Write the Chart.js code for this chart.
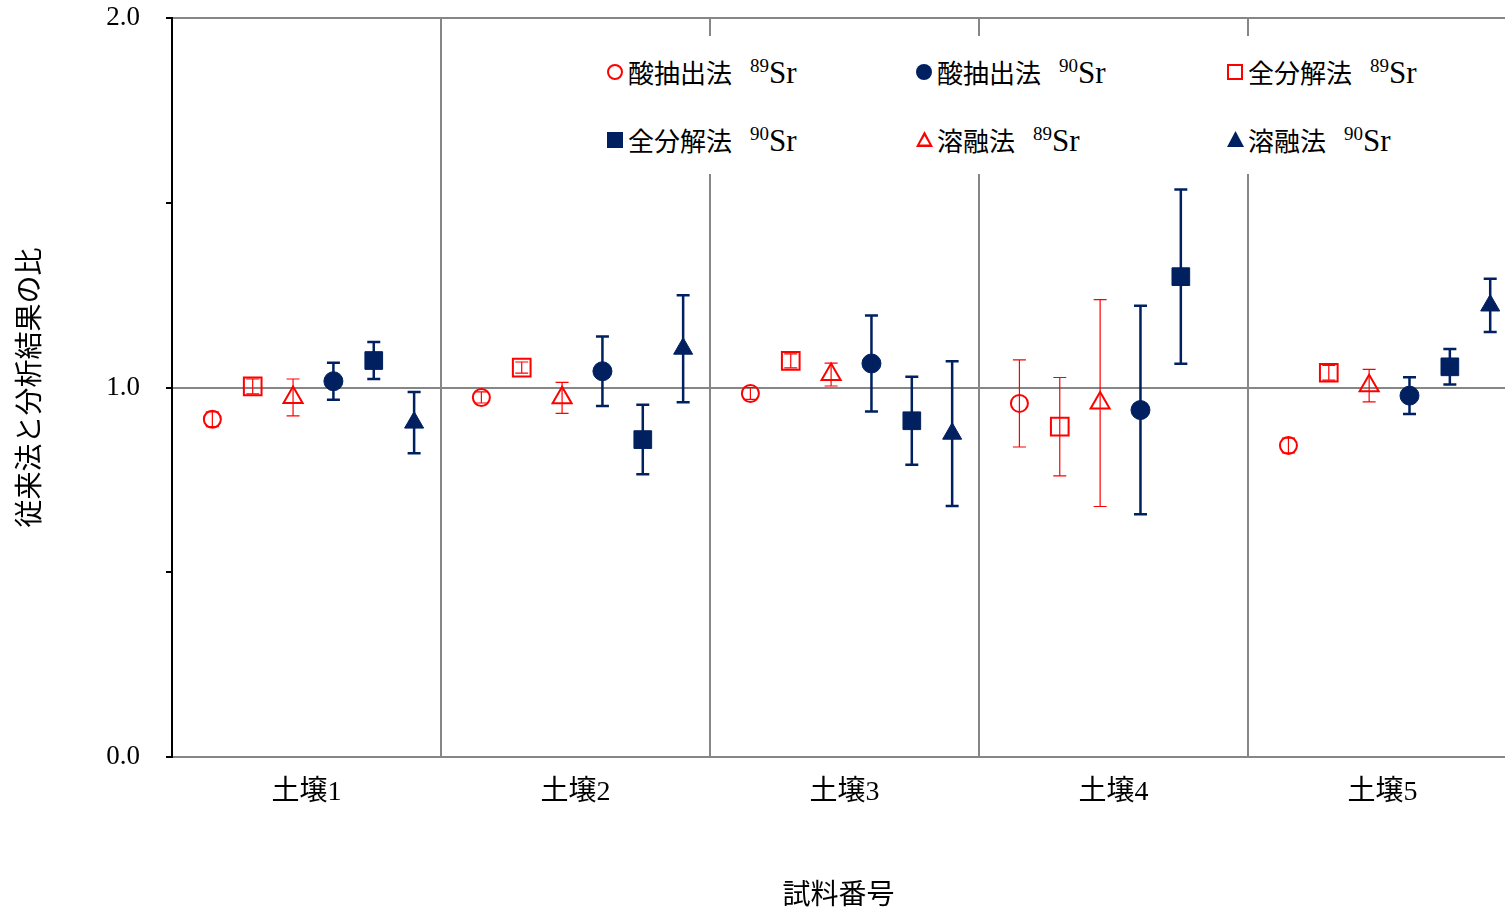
<!DOCTYPE html>
<html lang="ja">
<head>
<meta charset="utf-8">
<title>従来法と分析結果の比</title>
<script src="https://cdn.jsdelivr.net/npm/chart.js@4.4.1/dist/chart.umd.min.js"></script>
<style>
  body { margin: 0; background: #fff; }
  #wrap { position: relative; width: 1505px; height: 913px; }
  #legendBg { position: absolute; left: 592px; top: 36px; width: 880px; height: 138px; background: #fff; }
  .item { position: absolute; height: 40px; width: 300px; white-space: nowrap; }
  .mk { position: absolute; left: 0; box-sizing: border-box; }
  .txt { position: absolute; left: 21px; top: 0; line-height: 40px; font-family: "Noto Sans CJK JP"; font-size: 26px; color: #000; }
  .iso { font-family: "Liberation Serif"; font-size: 31px; margin-left: 18px; }
  .iso sup { font-size: 19px; line-height: 0; vertical-align: 11px; }
</style>
</head>
<body>
<div id="wrap">
  <canvas id="ratioChart" width="1505" height="913"></canvas>
  <div id="legendBg"></div>
</div>
<script>
// categories
const categories = ['土壌1', '土壌2', '土壌3', '土壌4', '土壌5'];

// ratio values and error (±) per method / isotope
const acid89 = [0.914, 0.973, 0.984, 0.957, 0.843];
const acid89Err = [0.02, 0.015, 0.016, 0.118, 0.02];
const acid90 = [1.017, 1.044, 1.065, 0.939, 0.978];
const acid90Err = [0.05, 0.094, 0.13, 0.282, 0.05];
const total89 = [1.003, 1.054, 1.072, 0.894, 1.040];
const total89Err = [0.02, 0.015, 0.019, 0.133, 0.02];
const total90 = [1.073, 0.859, 0.910, 1.300, 1.056];
const total90Err = [0.05, 0.094, 0.119, 0.236, 0.048];
const fusion89 = [0.973, 0.972, 1.035, 0.958, 1.005];
const fusion89Err = [0.05, 0.042, 0.031, 0.28, 0.044];
const fusion90 = [0.905, 1.105, 0.875, null, 1.222];
const fusion90Err = [0.083, 0.145, 0.196, null, 0.072];

const RED = '#FF0000';
const NAVY = '#002060';
const FONT = '"Liberation Serif", "Noto Sans CJK JP"';

// series setup: name, isotope, data, style, slot inside the category
const series = [
  { name: '酸抽出法', iso: '89', vals: acid89, errs: acid89Err, slot: 1, shape: 'circle', fill: false },
  { name: '酸抽出法', iso: '90', vals: acid90, errs: acid90Err, slot: 4, shape: 'circle', fill: true },
  { name: '全分解法', iso: '89', vals: total89, errs: total89Err, slot: 2, shape: 'rect', fill: false },
  { name: '全分解法', iso: '90', vals: total90, errs: total90Err, slot: 5, shape: 'rect', fill: true },
  { name: '溶融法', iso: '89', vals: fusion89, errs: fusion89Err, slot: 3, shape: 'triangle', fill: false },
  { name: '溶融法', iso: '90', vals: fusion90, errs: fusion90Err, slot: 6, shape: 'triangle', fill: true }
];

const radius = { circle: 8.5, rect: 12.5, triangle: 11 };

const datasets = series.map(s => {
  const pts = [];
  s.vals.forEach((v, i) => {
    if (v !== null) pts.push({ x: i + s.slot * 0.15, y: v, err: s.errs[i] });
  });
  return {
    label: s.name + ' ' + s.iso + 'Sr',
    data: pts,
    showLine: false,
    pointStyle: s.shape,
    pointRadius: radius[s.shape] + (s.fill && s.shape === 'circle' ? 1 : 0),
    pointBackgroundColor: s.fill ? NAVY : 'rgba(255,255,255,0)',
    pointBorderColor: s.fill ? NAVY : RED,
    pointBorderWidth: s.fill ? 1 : 2,
    errColor: s.fill ? NAVY : RED,
    errWidth: s.fill ? 2.5 : 1.2
  };
});

// draws vertical error bars with caps
const errorBars = {
  id: 'errorBars',
  afterDatasetsDraw(chart) {
    const ctx = chart.ctx;
    const x = chart.scales.x, y = chart.scales.y;
    chart.data.datasets.forEach(ds => {
      ctx.save();
      ctx.strokeStyle = ds.errColor;
      ctx.lineWidth = ds.errWidth;
      ds.data.forEach(p => {
        const px = x.getPixelForValue(p.x);
        const top = y.getPixelForValue(p.y + p.err);
        const bot = y.getPixelForValue(p.y - p.err);
        ctx.beginPath();
        ctx.moveTo(px, top); ctx.lineTo(px, bot);
        ctx.moveTo(px - 6.5, top); ctx.lineTo(px + 6.5, top);
        ctx.moveTo(px - 6.5, bot); ctx.lineTo(px + 6.5, bot);
        ctx.stroke();
      });
      ctx.restore();
    });
  }
};

new Chart(document.getElementById('ratioChart').getContext('2d'), {
  type: 'scatter',
  data: { datasets: datasets },
  options: {
    responsive: false,
    animation: false,
    layout: { autoPadding: false, padding: { top: 18, right: 0, bottom: 0, left: 0 } },
    plugins: { legend: { display: false }, tooltip: { enabled: false } },
    scales: {
      x: {
        type: 'linear',
        min: 0,
        max: 4.955,
        afterBuildTicks: s => {
          s.ticks = categories.flatMap((c, i) => [{ value: i }, { value: i + 0.5 }]);
        },
        ticks: {
          autoSkip: false,
          maxRotation: 0,
          padding: 19,
          color: '#000',
          font: { family: FONT, size: 28 },
          callback: v => Number.isInteger(v) ? '' : categories[Math.floor(v)]
        },
        grid: {
          color: c => (c.tick && Number.isInteger(c.tick.value) && c.tick.value > 0) ? '#868686' : 'transparent',
          lineWidth: 2,
          drawTicks: false
        },
        border: { color: '#868686', width: 2 },
        title: {
          display: true,
          text: '試料番号',
          color: '#000',
          font: { family: FONT, size: 28 },
          padding: { top: 0, bottom: 0 }
        },
        afterFit: s => {
          s.height = 156;
          s.paddingLeft = 0;
          s.paddingRight = 0;
        }
      },
      y: {
        min: 0,
        max: 2,
        ticks: {
          stepSize: 0.5,
          padding: 26,
          color: '#000',
          font: { family: FONT, size: 27 },
          callback: v => Number.isInteger(v) ? v.toFixed(1) : ''
        },
        grid: {
          color: c => (c.tick && (c.tick.value === 1 || c.tick.value === 2)) ? '#868686' : 'transparent',
          lineWidth: 2,
          tickColor: '#000',
          tickLength: 6,
          tickWidth: 2
        },
        border: { color: '#000', width: 2 },
        title: {
          display: true,
          text: '従来法と分析結果の比',
          color: '#000',
          font: { family: FONT, size: 28 },
          padding: { top: 15, bottom: 0 }
        },
        afterFit: s => {
          s.width = 172;
          s.paddingTop = 0;
          s.paddingBottom = 0;
        }
      }
    }
  },
  plugins: [errorBars]
});

// legend (3 columns x 2 rows) with superscript mass numbers
const legendCols = [607, 916, 1227];
const legendRows = [72, 140];
const wrap = document.getElementById('wrap');
series.forEach((s, k) => {
  const item = document.createElement('div');
  item.className = 'item';
  item.style.left = legendCols[k % 3] + 'px';
  item.style.top = (legendRows[Math.floor(k / 3)] - 20) + 'px';
  const mk = document.createElement('span');
  mk.className = 'mk';
  const col = s.fill ? NAVY : RED;
  if (s.shape === 'triangle') {
    mk.style.width = '17px'; mk.style.height = '16px'; mk.style.top = '11px';
    mk.style.background = col;
    mk.style.clipPath = s.fill ? 'polygon(50% 0, 100% 100%, 0 100%)'
      : 'polygon(50% 0, 100% 100%, 0 100%, 0 100%, 3.5px calc(100% - 2.5px), calc(100% - 3.5px) calc(100% - 2.5px), 50% 5px, 3.5px calc(100% - 2.5px), 0 100%)';
  } else {
    mk.style.width = '16px'; mk.style.height = '16px'; mk.style.top = '12px';
    if (s.fill) mk.style.background = col;
    else mk.style.border = '2.5px solid ' + col;
    if (s.shape === 'circle') mk.style.borderRadius = '50%';
  }
  item.appendChild(mk);
  const txt = document.createElement('span');
  txt.className = 'txt';
  txt.innerHTML = s.name + '<span class="iso"><sup>' + s.iso + '</sup>Sr</span>';
  item.appendChild(txt);
  wrap.appendChild(item);
});
</script>
</body>
</html>
